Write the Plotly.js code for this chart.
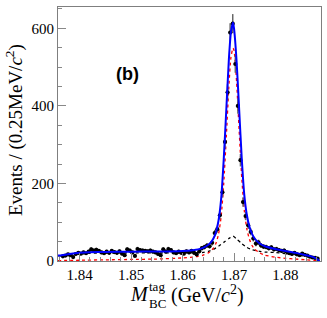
<!DOCTYPE html>
<html>
<head>
<meta charset="utf-8">
<script src="https://cdn.plot.ly/plotly-3.0.1.min.js"></script>
<style>html,body{margin:0;padding:0;background:#fff;}#chart{width:327px;height:318px;}</style>
</head>
<body>
<div id="chart"></div>
<script>
// Data points: bin centres (GeV/c^2) and event counts
const binCenters = [1.83675,1.83725,1.83775,1.83825,1.83875,1.83925,1.83975,1.84025,1.84075,1.84125,
1.84175,1.84225,1.84275,1.84325,1.84375,1.84425,1.84475,1.84525,1.84575,1.84625,
1.84675,1.84725,1.84775,1.84825,1.84875,1.84925,1.84975,1.85025,1.85075,1.85125,
1.85175,1.85225,1.85275,1.85325,1.85375,1.85425,1.85475,1.85525,1.85575,1.85625,
1.85675,1.85725,1.85775,1.85825,1.85875,1.85925,1.85975,1.86025,1.86075,1.86125,
1.86175,1.86225,1.86275,1.86325,1.86375,1.86425,1.86475,1.86525,1.86575,1.86625,
1.86675,1.86725,1.86775,1.86825,1.86875,1.86925,1.86975,1.87025,1.87075,1.87125,
1.87175,1.87225,1.87275,1.87325,1.87375,1.87425,1.87475,1.87525,1.87575,1.87625,
1.87675,1.87725,1.87775,1.87825,1.87875,1.87925,1.87975,1.88025,1.88075,1.88125,
1.88175,1.88225,1.88275,1.88325,1.88375,1.88425,1.88475,1.88525,1.88575,1.88625];
const counts = [12,14,17,15,10,18,21,19,22,20,
24,30,27,29,26,22,20,24,21,26,
23,21,25,19,15,30,27,22,13,31,
28,27,26,25,27,24,22,18,15,30,
24,31,28,22,20,24,21,19,25,22,
26,21,17,25,33,36,40,38,47,72,
82,118,177,307,435,589,612,508,400,260,
152,116,92,75,58,45,48,40,37,36,
33,35,30,31,28,26,27,22,20,18,
21,17,15,19,16,14,11,9,8,6];
const countErrors = counts.map(v => Math.sqrt(v));

// Fit curves
const totalX = [1.8358,1.8365,1.838,1.840,1.842,1.845,1.850,1.855,1.860,1.862,1.863,1.864,1.865,1.8655,1.866,1.8665,1.867,1.8675,1.868,1.8685,1.869,1.8694,1.8698,1.870,1.8705,1.871,1.8715,1.872,1.8725,1.873,1.8735,1.874,1.875,1.876,1.878,1.880,1.882,1.884,1.885,1.886,1.8866];
const totalY = [14,15,18,21,22.5,23.5,24,24.5,26,28,30,34,42,48,58,75,105,160,262,390,520,590,615,600,515,390,265,170,118,88,70,58,45,38,31,26,21,15,12,6,0];
const signalX = [1.8358,1.840,1.845,1.850,1.855,1.860,1.862,1.863,1.864,1.865,1.8655,1.866,1.8665,1.867,1.8675,1.868,1.8685,1.869,1.8694,1.8698,1.870,1.8705,1.871,1.8715,1.872,1.8725,1.873,1.8735,1.874,1.875,1.876,1.878,1.880,1.882,1.884,1.886,1.8866];
const signalY = [1,2,3,4,5,8,10,12,15,21,26,33,46,70,115,200,320,450,525,549,543,462,335,215,130,82,56,40,31,21,15,10,7,5,3,1,0];
const bkgX = [1.8358,1.8365,1.838,1.840,1.842,1.845,1.850,1.855,1.860,1.862,1.864,1.865,1.866,1.867,1.868,1.869,1.8698,1.8705,1.8715,1.8725,1.8735,1.875,1.876,1.878,1.880,1.882,1.884,1.885,1.886,1.8866];
const bkgY = [13,14,17,19,20,21,21,21,21,21,22,25,30,38,48,58,64,57,45,35,29,25,23,22,19,16,12,9,5,0];

const xTickVals = [1.84,1.85,1.86,1.87,1.88];
const xTickText = ["1.84","1.85","1.86","1.87","1.88"];
const yTickVals = [0,200,400,600];
const yTickText = ["0","200","400","600"];

const W = 327, H = 318, L = 58, R = 6, T = 7, B = 57;
const pw = W - L - R, ph = H - T - B;
const px = x => (x - L) / pw;
const py = y => (H - B - y) / ph;
const serif = "Liberation Serif, Times New Roman, serif";
const ann = (x, y, text, font, extra) => Object.assign({xref: 'paper', yref: 'paper', x: px(x), y: py(y), text: text,
  showarrow: false, xanchor: 'center', yanchor: 'middle', font: font}, extra || {});

const traces = [
  {x: bkgX, y: bkgY, type: 'scatter', mode: 'lines', line: {color: '#000', width: 1.3, dash: 'dot', shape: 'spline', smoothing: 0.6}, hoverinfo: 'skip'},
  {x: signalX, y: signalY, type: 'scatter', mode: 'lines', line: {color: '#ff0000', width: 1.3, dash: 'dot', shape: 'spline', smoothing: 0.6}, hoverinfo: 'skip'},
  {x: binCenters, y: counts, type: 'scatter', mode: 'markers',
   marker: {color: '#000', size: 4.2},
   error_y: {type: 'data', array: countErrors, visible: true, color: '#666', thickness: 1.5, width: 0},
   error_x: {type: 'constant', value: 0.00025, visible: true, color: '#555', thickness: 1, width: 0}},
  {x: totalX, y: totalY, type: 'scatter', mode: 'lines', line: {color: '#0000ff', width: 2, shape: 'spline', smoothing: 0.6}, hoverinfo: 'skip'}
];

const layout = {
  width: W, height: H,
  margin: {l: L, r: R, t: T, b: B},
  paper_bgcolor: '#fff', plot_bgcolor: '#fff',
  showlegend: false,
  font: {family: serif, color: '#000'},
  xaxis: {
    range: [1.8358, 1.8869], tickvals: xTickVals, ticktext: xTickText,
    ticks: 'inside', ticklen: 8, tickcolor: '#888', tickwidth: 1,
    minor: {dtick: 0.002, tick0: 1.84, ticks: 'inside', ticklen: 4, tickcolor: '#888', tickwidth: 1},
    showline: true, linecolor: '#7f7f7f', linewidth: 1, mirror: true,
    showgrid: false, zeroline: false,
    tickfont: {family: serif, size: 15, color: '#000'}
  },
  yaxis: {
    range: [0, 655], tickvals: yTickVals, ticktext: yTickText,
    ticks: 'inside', ticklen: 8, tickcolor: '#888', tickwidth: 1,
    minor: {dtick: 50, tick0: 0, ticks: 'inside', ticklen: 4, tickcolor: '#888', tickwidth: 1},
    showline: true, linecolor: '#7f7f7f', linewidth: 1, mirror: true,
    showgrid: false, zeroline: false,
    tickfont: {family: serif, size: 15, color: '#000'}
  },
  annotations: [
    ann(127, 74, '<b>(b)</b>', {family: 'Liberation Sans, Arial, sans-serif', size: 18, color: '#000'}),
    ann(14, 130, 'Events / (0.25MeV/<i>c</i><sup>2</sup>)', {family: serif, size: 19, color: '#000'}, {textangle: -90}),
    ann(139, 294, '<i>M</i>', {family: serif, size: 20, color: '#000'}),
    ann(157, 286, 'tag', {family: serif, size: 13, color: '#000'}),
    ann(157, 303, 'BC', {family: serif, size: 13, color: '#000'}),
    ann(207, 294, '(GeV/<i>c</i><sup>2</sup>)', {family: serif, size: 20, color: '#000'})
  ]
};

Plotly.newPlot('chart', traces, layout, {staticPlot: true, displayModeBar: false});
</script>
</body>
</html>
